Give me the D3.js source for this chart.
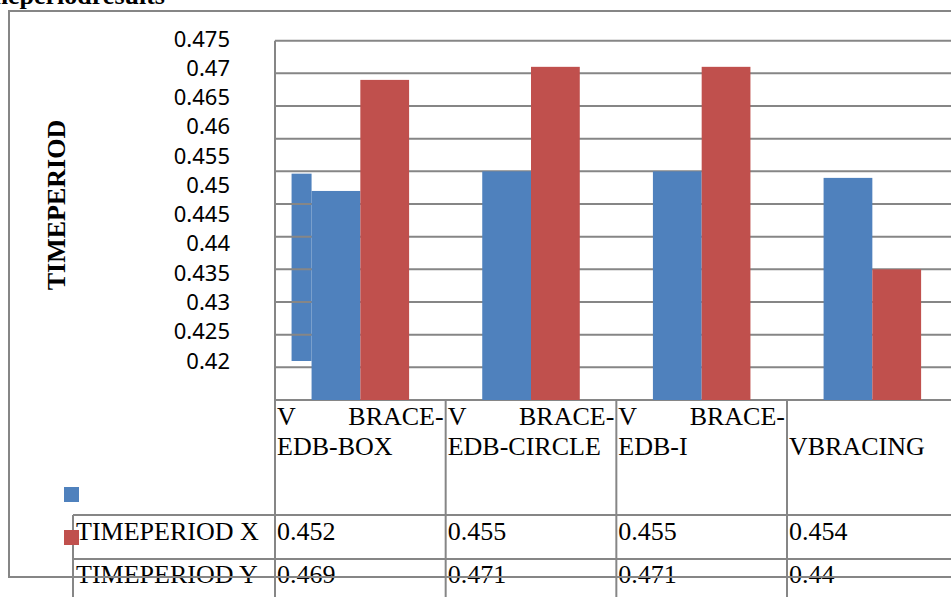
<!DOCTYPE html>
<html>
<head>
<meta charset="utf-8">
<script src="https://cdn.jsdelivr.net/npm/d3@7"></script>
<style>
  html, body { margin: 0; padding: 0; background: #fff; }
  svg { display: block; }
</style>
</head>
<body>
<svg id="chart" width="951" height="597"></svg>
<script>
// Time period per bracing type, two series shown as clustered columns with a data table.
const categories = ["V BRACE-EDB-BOX", "V BRACE-EDB-CIRCLE", "V BRACE-EDB-I", "VBRACING"];
const seriesNames = ["TIMEPERIOD X", "TIMEPERIOD Y"];
const timeX = [0.452, 0.455, 0.455, 0.454];
const timeY = [0.469, 0.471, 0.471, 0.44];
const yTicks = [0.42, 0.425, 0.43, 0.435, 0.44, 0.445, 0.45, 0.455, 0.46, 0.465, 0.47, 0.475];
const titleText = "Timeperiodresults";
const axisTitle = "TIMEPERIOD";

const seriesValues = [timeX, timeY];
const colors = ["#4F81BD", "#C0504D"];
const gridColor = "#868686";
const serif = "'Liberation Serif', 'Times New Roman', serif";

const svg = d3.select("#chart");
const W = 951, H = 597;

// plot geometry
const plotLeft = 275, plotTop = 40.7, baseY = 400, colW = 170.67;
const plotRight = plotLeft + categories.length * colW;

const x0 = d3.scaleBand().domain(categories).range([plotLeft, plotRight]);
const x1 = d3.scaleBand().domain(seriesNames).range([0, colW]).paddingInner(0).paddingOuter(0.75);
const y = d3.scaleLinear().domain([0.42, 0.475]).range([baseY, plotTop]);
// value axis labels sit on their own, slightly tighter spacing
const yLab = d3.scaleLinear().domain([0.42, 0.475]).range([361, 39]);

svg.append("rect").attr("width", W).attr("height", H).attr("fill", "#fff");

// offset sliver of the first column (drawn against the label spacing)
const sliver = 20;
svg.append("rect")
  .attr("x", x0(categories[0]) + x1(seriesNames[0]) - sliver)
  .attr("y", yLab(timeX[0]))
  .attr("width", sliver)
  .attr("height", yLab(0.42) - yLab(timeX[0]))
  .attr("fill", colors[0]);

// gridlines
svg.append("g").selectAll("line").data(yTicks).join("line")
  .attr("x1", plotLeft).attr("x2", plotRight)
  .attr("y1", d => y(d)).attr("y2", d => y(d))
  .attr("stroke", gridColor).attr("stroke-width", 2);

// bars
const groups = svg.append("g").selectAll("g").data(categories).join("g")
  .attr("transform", d => `translate(${x0(d)},0)`);
groups.selectAll("rect")
  .data((c, i) => seriesNames.map((s, k) => ({ s, k, v: seriesValues[k][i] })))
  .join("rect")
  .attr("x", d => x1(d.s))
  .attr("y", d => y(d.v))
  .attr("width", x1.bandwidth())
  .attr("height", d => y(0.42) - y(d.v))
  .attr("fill", d => colors[d.k]);

// value axis labels
const axis = svg.append("g").attr("transform", "translate(230,0)")
  .call(d3.axisLeft(yLab).tickValues(yTicks).tickSize(0).tickPadding(0).tickFormat(d3.format(".3~f")));
axis.select(".domain").remove();
axis.selectAll("text")
  .attr("font-family", "'Noto Sans', 'Open Sans', sans-serif")
  .attr("font-size", 22).attr("fill", "#000");

// data table
const rowTop = [515, 559];
const rowBase = [540, 583];
const tableBottom = H;
const lines = svg.append("g").attr("stroke", gridColor).attr("stroke-width", 2);
lines.append("line").attr("x1", plotLeft).attr("x2", plotLeft).attr("y1", plotTop).attr("y2", tableBottom);
categories.forEach(c => {
  const xr = x0(c) + colW;
  lines.append("line").attr("x1", xr).attr("x2", xr).attr("y1", baseY).attr("y2", tableBottom);
});
rowTop.forEach(ry => {
  lines.append("line").attr("x1", 73).attr("x2", plotRight).attr("y1", ry).attr("y2", ry);
});
lines.append("line").attr("x1", 73).attr("x2", 73).attr("y1", rowTop[0]).attr("y2", tableBottom);

const txt = svg.append("g").attr("font-family", serif).attr("font-size", 26).attr("fill", "#000");

// column headers, wrapped after the first hyphen with the first line justified
categories.forEach(c => {
  const cx = x0(c);
  const m = c.match(/^(\S+) (\S+?-)(.*)$/);
  if (m) {
    txt.append("text").attr("x", cx + 2).attr("y", 425).text(m[1]);
    txt.append("text").attr("x", cx + colW - 2).attr("y", 425).attr("text-anchor", "end").text(m[2]);
    txt.append("text").attr("x", cx + 2).attr("y", 455).text(m[3]);
  } else {
    txt.append("text").attr("x", cx + 2).attr("y", 455).text(c);
  }
});

// row labels, legend keys and values
seriesNames.forEach((s, k) => {
  txt.append("text").attr("x", 76).attr("y", rowBase[k]).text(s);
  svg.append("rect").attr("x", 64).attr("y", rowBase[k] - 53).attr("width", 15).attr("height", 15)
    .attr("fill", colors[k]);
  categories.forEach((c, i) => {
    txt.append("text").attr("x", x0(c) + 2).attr("y", rowBase[k]).text(String(seriesValues[k][i]));
  });
});

// axis title
svg.append("text")
  .attr("transform", "translate(65,205) rotate(-90)")
  .attr("text-anchor", "middle")
  .attr("font-family", serif).attr("font-weight", "bold").attr("font-size", 26)
  .text(axisTitle);

// chart title
svg.append("text")
  .attr("x", 165).attr("y", 4).attr("text-anchor", "end")
  .attr("font-family", serif).attr("font-weight", "bold").attr("font-size", 26)
  .text(titleText);

// chart frame
svg.append("rect")
  .attr("x", 9).attr("y", 11).attr("width", 1000).attr("height", 566)
  .attr("fill", "none").attr("stroke", gridColor).attr("stroke-width", 2);
</script>
</body>
</html>
